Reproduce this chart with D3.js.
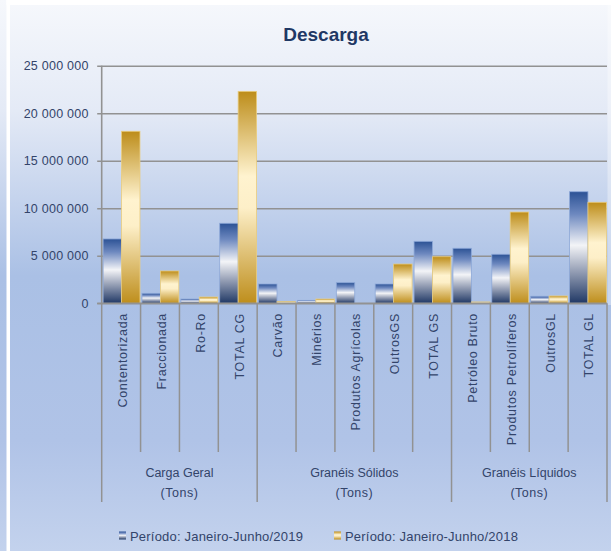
<!DOCTYPE html>
<html>
<head>
<meta charset="utf-8">
<script src="https://cdn.jsdelivr.net/npm/d3@7"></script>
<style>
    body { margin: 0; background: #ffffff; }
    svg { display: block; font-family: "Liberation Sans", Arial, sans-serif; }
</style>
</head>
<body>
<div id="chart"></div>
<script>
// data
let categories = ['Contentorizada', 'Fraccionada', 'Ro-Ro', 'TOTAL CG',
    'Carvão', 'Minérios', 'Produtos Agrícolas', 'OutrosGS', 'TOTAL GS',
    'Petróleo Bruto', 'Produtos Petrolíferos', 'OutrosGL', 'TOTAL GL']
let groupNames = ['Carga Geral', 'Granéis Sólidos', 'Granéis Líquidos']
let groupSizes = [4, 5, 4]
let seriesNames = ['Período: Janeiro-Junho/2019', 'Período: Janeiro-Junho/2018']
let values2019 = [6770000, 1050000, 450000, 8420000, 2030000, 310000, 2170000, 2030000, 6520000, 5790000, 5160000, 740000, 11740000]
let values2018 = [18100000, 3400000, 660000, 22300000, 170000, 450000, 0, 4130000, 4900000, 140000, 9600000, 770000, 10630000]
let yTicks = [0, 5000000, 10000000, 15000000, 20000000, 25000000]

let width = 611
let height = 551
let plotLeft = 101.7
let plotRight = 607
let plotTop = 65.7
let plotBottom = 303.3
let textColor = '#33446a'
let lineColor = '#929292'

let svg = d3.select('#chart').append('svg')
    .attr('width', width)
    .attr('height', height)

let defs = svg.append('defs')

function addGradient(id, stops) {
    let g = defs.append('linearGradient')
        .attr('id', id)
        .attr('x1', 0).attr('y1', 0)
        .attr('x2', 0).attr('y2', 1)
    stops.forEach(s => {
        g.append('stop').attr('offset', s[0]).attr('stop-color', s[1])
    })
}

addGradient('bg', [[0, '#f6f8fc'], [0.2, '#e4eaf6'], [0.5, '#aac0e5'], [0.8, '#b0c3e7'], [1, '#c3d2ed']])
addGradient('blue', [[0, '#2c5295'], [0.2, '#6d88bf'], [0.48, '#f3f4f7'], [0.7, '#9aa3b8'], [1, '#203865']])
addGradient('gold', [[0, '#bd8d1a'], [0.4, '#fff3cf'], [0.55, '#fdefc8'], [1, '#be8e1c']])

// background and frame
svg.append('rect')
    .attr('width', width)
    .attr('height', height)
    .attr('fill', 'url(#bg)')
svg.append('rect')
    .attr('x', 6.5)
    .attr('width', 3.5)
    .attr('height', height)
    .attr('fill', '#ffffff')
svg.append('rect')
    .attr('x', 6.5)
    .attr('width', width - 6.5)
    .attr('height', 5)
    .attr('fill', '#ffffff')
svg.append('rect')
    .attr('x', 607.5)
    .attr('y', 5)
    .attr('width', 4)
    .attr('height', 300)
    .attr('fill', '#ffffff')
    .attr('opacity', 0.35)

// title
svg.append('text')
    .attr('x', 326)
    .attr('y', 41)
    .attr('text-anchor', 'middle')
    .attr('font-size', '19px')
    .attr('font-weight', 'bold')
    .attr('fill', '#1f3864')
    .text('Descarga')

// scales
let y = d3.scaleLinear()
    .domain([0, 25000000])
    .range([plotBottom, plotTop])
let x0 = d3.scaleBand()
    .domain(categories)
    .range([plotLeft, plotRight])
let x1 = d3.scaleBand()
    .domain(seriesNames)
    .range([1.4, x0.bandwidth() - 0.6])

let fmt = d => d3.format(',')(d).replace(/,/g, ' ')

// gridlines + y labels
let yAxis = svg.append('g')
    .attr('transform', `translate(${plotLeft},0)`)
    .call(d3.axisLeft(y).tickValues(yTicks).tickSize(-(plotRight - plotLeft)).tickSizeOuter(0).tickPadding(13).tickFormat(fmt))
yAxis.select('.domain').remove()
yAxis.selectAll('.tick line')
    .attr('x1', -4.5)
    .attr('stroke', lineColor)
    .attr('stroke-width', 1.6)
yAxis.selectAll('.tick text')
    .attr('font-size', '12.5px')
    .attr('letter-spacing', '0.25px')
    .attr('fill', textColor)
    .attr('font-family', '"Liberation Sans", Arial, sans-serif')

// bars
let rows = categories.map((c, i) => ({cat: c, vals: [values2019[i], values2018[i]]}))
let fills = ['url(#blue)', 'url(#gold)']
let strokes = ['#8da8d8', '#e9cc7e']
let barGroups = svg.append('g').selectAll('g')
    .data(rows)
    .join('g')
    .attr('transform', d => `translate(${x0(d.cat)},0)`)
barGroups.selectAll('rect')
    .data(d => d.vals.map((v, j) => ({s: seriesNames[j], v: v, j: j})))
    .join('rect')
    .attr('x', d => x1(d.s))
    .attr('y', d => y(d.v))
    .attr('width', x1.bandwidth())
    .attr('height', d => plotBottom - y(d.v))
    .attr('fill', d => fills[d.j])
    .attr('stroke', d => d.v > 0 ? strokes[d.j] : 'none')
    .attr('stroke-width', 0.8)

// axis lines
svg.append('line')
    .attr('x1', plotLeft).attr('x2', plotLeft)
    .attr('y1', plotTop).attr('y2', plotBottom)
    .attr('stroke', lineColor)
    .attr('stroke-width', 1.6)
svg.append('line')
    .attr('x1', plotLeft - 4.5).attr('x2', plotRight)
    .attr('y1', plotBottom).attr('y2', plotBottom)
    .attr('stroke', lineColor)
    .attr('stroke-width', 1.6)

// category dividers
let groupEdges = [0]
groupSizes.forEach((n, i) => groupEdges.push(groupEdges[i] + n))
let edges = d3.range(categories.length + 1)
svg.append('g').selectAll('line')
    .data(edges)
    .join('line')
    .attr('x1', i => plotLeft + i * x0.step())
    .attr('x2', i => plotLeft + i * x0.step())
    .attr('y1', plotBottom)
    .attr('y2', i => groupEdges.includes(i) ? 502 : 452)
    .attr('stroke', lineColor)
    .attr('stroke-width', 1.5)

// category labels
svg.append('g').selectAll('text')
    .data(categories)
    .join('text')
    .attr('transform', d => `translate(${x0(d) + x0.bandwidth() / 2 + 1.5},313) rotate(-90)`)
    .attr('text-anchor', 'end')
    .attr('dy', '0.35em')
    .attr('font-size', '12.5px')
    .attr('letter-spacing', '0.7px')
    .attr('fill', textColor)
    .text(d => d)

// group labels
let groupLabels = svg.append('g').selectAll('g')
    .data(groupNames)
    .join('g')
    .attr('transform', (d, i) => `translate(${plotLeft + (groupEdges[i] + groupEdges[i + 1]) / 2 * x0.step()},0)`)
groupLabels.append('text')
    .attr('y', 477)
    .attr('text-anchor', 'middle')
    .attr('font-size', '12.5px')
    .attr('fill', textColor)
    .text(d => d)
groupLabels.append('text')
    .attr('y', 497)
    .attr('text-anchor', 'middle')
    .attr('font-size', '12.5px')
    .attr('letter-spacing', '0.5px')
    .attr('fill', textColor)
    .text('(Tons)')

// legend
let legendX = [119, 334]
let legend = svg.append('g').selectAll('g')
    .data(seriesNames)
    .join('g')
    .attr('transform', (d, i) => `translate(${legendX[i]},0)`)
legend.append('rect')
    .attr('y', 531.5)
    .attr('width', 7)
    .attr('height', 8)
    .attr('fill', (d, i) => fills[i])
legend.append('text')
    .attr('x', 11)
    .attr('y', 540.5)
    .attr('font-size', '13px')
    .attr('letter-spacing', '0.2px')
    .attr('fill', textColor)
    .text(d => d)
</script>
</body>
</html>
